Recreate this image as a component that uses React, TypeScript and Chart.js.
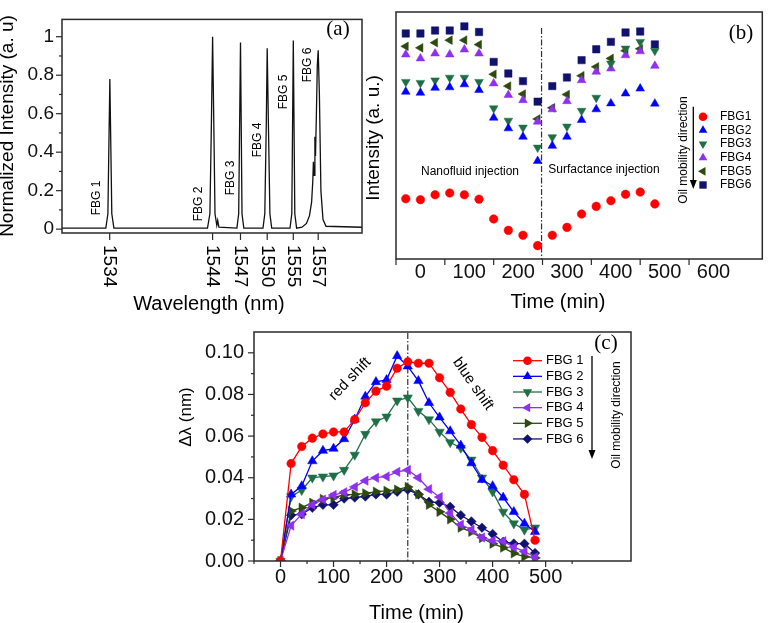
import React, { useEffect, useRef } from 'react';
import { Chart, registerables } from 'chart.js';
Chart.register(...registerables);

// ---------------- Panel (a): spectrum ----------------
// x is the position along the (non-linear) wavelength axis, 0..100
const spectrumPos = [0, 14.6, 15.3, 15.95, 16.6, 17.3, 48.5, 49.3, 49.8, 50.2, 50.6, 51.0, 51.6, 51.9, 52.3, 58.3, 58.9, 59.5, 60.0, 60.6, 67.0, 67.6, 68.1, 68.4, 68.8, 69.3, 69.9, 76.0, 76.6, 77.1, 77.6, 78.2, 80.0, 81.5, 82.5, 83.2, 83.6, 83.8, 84.0, 84.3, 84.5, 84.8, 85.1, 85.4, 85.8, 86.3, 87.0, 88.0, 100];
const spectrumInt = [0.005, 0.005, 0.08, 0.78, 0.08, 0.005, 0.005, 0.08, 0.55, 1.0, 0.55, 0.08, 0.02, 0.045, 0.01, 0.005, 0.08, 0.97, 0.08, 0.005, 0.005, 0.08, 0.55, 0.94, 0.55, 0.08, 0.005, 0.005, 0.08, 0.98, 0.08, 0.005, 0.01, 0.03, 0.07, 0.14, 0.25, 0.35, 0.28, 0.48, 0.38, 0.6, 0.85, 0.93, 0.7, 0.2, 0.05, 0.015, 0.01];
const peakTickPos = [15.9, 50.2, 59.5, 68.4, 77.1, 85.4];
const peakTickLabels = ['1534', '1544', '1547', '1550', '1555', '1557'];
const peakNames = ['FBG 1', 'FBG 2', 'FBG 3', 'FBG 4', 'FBG 5', 'FBG 6'];
const intensityTicks = [0, 0.1, 0.2, 0.3, 0.4, 0.5, 0.6, 0.7, 0.8, 0.9, 1.0];

// ---------------- Panel (b): intensity vs time ----------------
const timeB = [-30, 0, 30, 60, 90, 120, 150, 180, 210, 240, 270, 300, 330, 360, 390, 420, 450, 480];
const bFBG1 = [0.244, 0.240, 0.260, 0.267, 0.260, 0.242, 0.162, 0.116, 0.096, 0.054, 0.096, 0.128, 0.182, 0.213, 0.236, 0.262, 0.271, 0.223];
const bFBG2 = [0.677, 0.673, 0.693, 0.695, 0.707, 0.684, 0.572, 0.529, 0.495, 0.397, 0.458, 0.495, 0.563, 0.606, 0.630, 0.670, 0.690, 0.629];
const bFBG3 = [0.717, 0.713, 0.723, 0.734, 0.734, 0.717, 0.610, 0.560, 0.532, 0.451, 0.493, 0.536, 0.600, 0.653, 0.791, 0.852, 0.879, 0.843];
const bFBG4 = [0.828, 0.812, 0.832, 0.828, 0.848, 0.832, 0.711, 0.664, 0.643, 0.556, 0.606, 0.639, 0.724, 0.758, 0.771, 0.825, 0.841, 0.782];
const bFBG5 = [0.861, 0.855, 0.876, 0.886, 0.886, 0.868, 0.748, 0.700, 0.668, 0.567, 0.612, 0.666, 0.742, 0.778, 0.812, 0.843, 0.851, null];
const bFBG6 = [0.913, 0.913, 0.925, 0.925, 0.942, 0.919, 0.798, 0.751, 0.720, 0.637, 0.700, 0.735, 0.805, 0.849, 0.879, 0.917, 0.921, 0.869];
const bNames = ['FBG1', 'FBG2', 'FBG3', 'FBG4', 'FBG5', 'FBG6'];
const bTickValues = [-50, 0, 50, 100, 150, 200, 250, 300, 350, 400, 450, 500, 550, 600];
const bTickMarks = [-50, 50, 150, 250, 350, 450, 550];
const bSwitchTime = 248;

// ---------------- Panel (c): wavelength shift ----------------
const timeC = [0, 20, 40, 60, 80, 100, 120, 140, 160, 180, 200, 220, 240, 260, 280, 300, 320, 340, 360, 380, 400, 420, 440, 460, 480];
const cFBG1 = [0, 0.0468, 0.055, 0.059, 0.061, 0.062, 0.062, 0.068, 0.076, 0.0816, 0.084, 0.0926, 0.0957, 0.095, 0.095, 0.088, 0.081, 0.073, 0.0655, 0.0594, 0.053, 0.046, 0.039, 0.032, 0.010];
const cFBG2 = [0, 0.032, 0.036, 0.048, 0.053, 0.054, 0.0586, 0.068, 0.079, 0.086, 0.087, 0.0985, 0.0935, 0.0865, 0.076, 0.069, 0.0624, 0.0555, 0.047, 0.039, 0.036, 0.0305, 0.0236, 0.018, 0.014];
const cFBG3 = [0, 0.031, 0.034, 0.040, 0.0405, 0.041, 0.0437, 0.051, 0.061, 0.067, 0.0693, 0.077, 0.0785, 0.072, 0.068, 0.062, 0.057, 0.0543, 0.0486, 0.040, 0.0333, 0.0236, 0.018, 0.015, 0.016];
const cFBG4 = [0, 0.017, 0.0225, 0.027, 0.0295, 0.0317, 0.033, 0.0356, 0.0386, 0.040, 0.0406, 0.0428, 0.0437, 0.040, 0.0345, 0.0307, 0.023, 0.0175, 0.015, 0.0113, 0.0098, 0.0095, 0.0067, 0.0046, 0.0018];
const cFBG5 = [0, 0.024, 0.0256, 0.028, 0.0298, 0.0305, 0.0317, 0.032, 0.0325, 0.0333, 0.0337, 0.0343, 0.0356, 0.032, 0.027, 0.0236, 0.020, 0.016, 0.014, 0.011, 0.0083, 0.0064, 0.0037, 0.0021, 0.0015];
const cFBG6 = [0, 0.022, 0.0225, 0.0256, 0.027, 0.027, 0.030, 0.0305, 0.031, 0.032, 0.032, 0.0333, 0.0343, 0.032, 0.0284, 0.028, 0.026, 0.022, 0.019, 0.016, 0.013, 0.0092, 0.0084, 0.0083, 0.0038];
const cNames = ['FBG 1', 'FBG 2', 'FBG 3', 'FBG 4', 'FBG 5', 'FBG 6'];
const cTickValuesX = [-50, 0, 50, 100, 150, 200, 250, 300, 350, 400, 450, 500, 550];
const cTickValuesY = [0, 0.01, 0.02, 0.03, 0.04, 0.05, 0.06, 0.07, 0.08, 0.09, 0.10];
const cSwitchTime = 240;

// ---------------- styles ----------------
const SANS = '"Liberation Sans", Arial, Helvetica, sans-serif';
const SERIF = '"Liberation Serif", "Times New Roman", serif';
const RED = '#ff0000', BLUE = '#0000ff', GREEN = '#1f6f46', PURPLE = '#8f2fef', OLIVE = '#2c4a0e', NAVY = '#11116e';

type Shape = 'circle' | 'triangle' | 'rect' | 'diamond';
type SeriesStyle = { color: string; shape: Shape; rot: number; r: number };
const bStyles: SeriesStyle[] = [
  { color: RED, shape: 'circle', rot: 0, r: 4.3 },
  { color: BLUE, shape: 'triangle', rot: 0, r: 5 },
  { color: GREEN, shape: 'triangle', rot: 180, r: 5 },
  { color: PURPLE, shape: 'triangle', rot: 0, r: 5 },
  { color: OLIVE, shape: 'triangle', rot: -90, r: 5 },
  { color: NAVY, shape: 'rect', rot: 0, r: 5.2 },
];
const cStyles: SeriesStyle[] = [
  { color: RED, shape: 'circle', rot: 0, r: 4.3 },
  { color: BLUE, shape: 'triangle', rot: 0, r: 5.4 },
  { color: GREEN, shape: 'triangle', rot: 180, r: 5.4 },
  { color: PURPLE, shape: 'triangle', rot: -90, r: 5.4 },
  { color: OLIVE, shape: 'triangle', rot: 90, r: 5.4 },
  { color: NAVY, shape: 'diamond', rot: 0, r: 4.8 },
];
const toPointStyle = (s: Shape) => (s === 'diamond' ? 'rectRot' : s);

type Txt = { t: string; x: number; y: number; size: number; rot?: number; serif?: boolean; align?: CanvasTextAlign };
type TickSet = { axis: 'x' | 'y'; values: number[]; major: (v: number) => boolean; majorLen: number; minorLen: number };
type Legend = { names: string[]; styles: SeriesStyle[]; y: number; dy: number; size: number; line?: [number, number]; markerX: number; textX: number };
type Deco = {
  ox: number; oy: number; ticks: TickSet[]; texts: Txt[];
  vline?: { value: number; y0: number };
  arrow?: { x: number; y0: number; y1: number };
  legend?: Legend;
  extra?: (chart: any, ctx: CanvasRenderingContext2D) => void;
};

function marker(ctx: CanvasRenderingContext2D, s: SeriesStyle, x: number, y: number) {
  const r = s.r;
  ctx.beginPath();
  if (s.shape === 'circle') ctx.arc(x, y, r, 0, 2 * Math.PI);
  else if (s.shape === 'rect') { const h = r * Math.SQRT1_2; ctx.rect(x - h, y - h, 2 * h, 2 * h); }
  else if (s.shape === 'diamond') { ctx.moveTo(x, y - r); ctx.lineTo(x + r, y); ctx.lineTo(x, y + r); ctx.lineTo(x - r, y); ctx.closePath(); }
  else {
    let a = (s.rot * Math.PI) / 180;
    for (let k = 0; k < 3; k++) {
      const px = x + r * Math.sin(a), py = y - r * Math.cos(a);
      if (k === 0) ctx.moveTo(px, py); else ctx.lineTo(px, py);
      a += (2 * Math.PI) / 3;
    }
    ctx.closePath();
  }
  ctx.fillStyle = s.color;
  ctx.fill();
}

function drawText(ctx: CanvasRenderingContext2D, t: Txt) {
  ctx.save();
  ctx.translate(t.x, t.y);
  if (t.rot) ctx.rotate((t.rot * Math.PI) / 180);
  ctx.font = `${t.size}px ${t.serif ? SERIF : SANS}`;
  ctx.fillStyle = '#000';
  ctx.textAlign = t.align || 'center';
  ctx.textBaseline = 'middle';
  ctx.fillText(t.t, 0, 0);
  ctx.restore();
}

function decoPlugin(d: Deco) {
  return {
    id: 'deco',
    beforeDatasetsDraw(chart: any) {
      if (!d.vline) return;
      const ctx: CanvasRenderingContext2D = chart.ctx;
      const a = chart.chartArea;
      const x = chart.scales.x.getPixelForValue(d.vline.value);
      ctx.save();
      ctx.strokeStyle = '#333';
      ctx.lineWidth = 1.2;
      ctx.setLineDash([6, 2, 1.5, 2]);
      ctx.beginPath();
      ctx.moveTo(x, d.vline.y0 - d.oy);
      ctx.lineTo(x, a.bottom);
      ctx.stroke();
      ctx.restore();
    },
    afterDraw(chart: any) {
      const ctx: CanvasRenderingContext2D = chart.ctx;
      const a = chart.chartArea;
      ctx.save();
      ctx.strokeStyle = '#2a2a2a';
      ctx.lineWidth = 1.5;
      ctx.strokeRect(a.left, a.top, a.right - a.left, a.bottom - a.top);
      ctx.lineWidth = 1.2;
      for (const ts of d.ticks) {
        const sc = chart.scales[ts.axis];
        for (const v of ts.values) {
          const len = ts.major(v) ? ts.majorLen : ts.minorLen;
          const p = sc.getPixelForValue(v);
          ctx.beginPath();
          if (ts.axis === 'x') { ctx.moveTo(p, a.bottom); ctx.lineTo(p, a.bottom + len); }
          else { ctx.moveTo(a.left, p); ctx.lineTo(a.left - len, p); }
          ctx.stroke();
        }
      }
      if (d.extra) d.extra(chart, ctx);
      ctx.translate(-d.ox, -d.oy);
      for (const t of d.texts) drawText(ctx, t);
      if (d.arrow) {
        const { x, y0, y1 } = d.arrow;
        ctx.strokeStyle = '#000';
        ctx.fillStyle = '#000';
        ctx.lineWidth = 1.3;
        ctx.beginPath(); ctx.moveTo(x, y0); ctx.lineTo(x, y1 - 6); ctx.stroke();
        ctx.beginPath(); ctx.moveTo(x - 3.5, y1 - 9); ctx.lineTo(x + 3.5, y1 - 9); ctx.lineTo(x, y1); ctx.closePath(); ctx.fill();
      }
      if (d.legend) {
        const L = d.legend;
        L.names.forEach((n, i) => {
          const y = L.y + i * L.dy;
          const s = L.styles[i];
          if (L.line) {
            ctx.strokeStyle = s.color; ctx.lineWidth = 1.3;
            ctx.beginPath(); ctx.moveTo(L.line[0], y); ctx.lineTo(L.line[1], y); ctx.stroke();
          }
          marker(ctx, s, L.markerX, y);
          drawText(ctx, { t: n, x: L.textX, y, size: L.size, align: 'left' });
        });
      }
      ctx.restore();
    },
  };
}

type Box = { left: number; top: number; width: number; height: number };
const boxA: Box = { left: 0, top: 0, width: 364, height: 320 };
const boxB: Box = { left: 364, top: 0, width: 404, height: 320 };
const boxC: Box = { left: 160, top: 310, width: 480, height: 313 };

function configA(): any {
  const deco: Deco = {
    ox: boxA.left, oy: boxA.top,
    ticks: [
      { axis: 'x', values: peakTickPos, major: () => true, majorLen: 7, minorLen: 7 },
      { axis: 'y', values: intensityTicks, major: (v) => Math.round(v * 10) % 2 === 0, majorLen: 6, minorLen: 3 },
    ],
    texts: [
      { t: 'Normalized Intensity (a. u)', x: 8, y: 126, size: 19, rot: -90 },
      { t: 'Wavelength (nm)', x: 209, y: 304, size: 20 },
      { t: '(a)', x: 338, y: 29, size: 21, serif: true },
      { t: peakNames[0], x: 97, y: 198, size: 12, rot: -90 },
      { t: peakNames[1], x: 199, y: 204, size: 12, rot: -90 },
      { t: peakNames[2], x: 231, y: 178, size: 12, rot: -90 },
      { t: peakNames[3], x: 258, y: 140, size: 12, rot: -90 },
      { t: peakNames[4], x: 284, y: 92, size: 12, rot: -90 },
      { t: peakNames[5], x: 308, y: 65, size: 12, rot: -90 },
    ],
    extra: (chart, ctx) => {
      const sc = chart.scales.x;
      const a = chart.chartArea;
      peakTickPos.forEach((v, i) => {
        drawText(ctx, { t: peakTickLabels[i], x: sc.getPixelForValue(v), y: a.bottom + 12, size: 19, rot: 90, align: 'left' });
      });
    },
  };
  return {
    type: 'line',
    data: {
      datasets: [{
        data: spectrumPos.map((x, i) => ({ x, y: spectrumInt[i] })),
        borderColor: '#111', borderWidth: 1.3, pointRadius: 0, tension: 0,
      }],
    },
    options: {
      animation: false, responsive: false, devicePixelRatio: 1,
      layout: { padding: { left: 0, top: 3, right: 2, bottom: 0 } },
      plugins: { legend: { display: false }, tooltip: { enabled: false } },
      scales: {
        x: {
          type: 'linear', min: 0, max: 100,
          grid: { display: false, drawTicks: false }, border: { display: false },
          ticks: { display: false },
          afterFit: (s: any) => { s.height = 87; },
        },
        y: {
          type: 'linear', min: -0.02, max: 1.09,
          grid: { display: false, drawTicks: false }, border: { display: false },
          ticks: {
            autoSkip: false, padding: 8, color: '#111', font: { family: SANS, size: 19 },
            callback: (v: number) => {
              const k = Math.round(v * 10);
              if (k % 2 !== 0) return '';
              return k === 0 ? '0' : k === 10 ? '1' : (k / 10).toFixed(1);
            },
          },
          afterBuildTicks: (s: any) => { s.ticks = intensityTicks.map((value) => ({ value })); },
          afterFit: (s: any) => { s.width = 62; },
        },
      },
    },
    plugins: [decoPlugin(deco)],
  };
}

function configB(): any {
  const series = [bFBG1, bFBG2, bFBG3, bFBG4, bFBG5, bFBG6];
  const deco: Deco = {
    ox: boxB.left, oy: boxB.top,
    ticks: [{ axis: 'x', values: bTickMarks, major: () => true, majorLen: 6, minorLen: 6 }],
    vline: { value: bSwitchTime, y0: 28 },
    texts: [
      { t: 'Intensity (a. u.)', x: 374, y: 138, size: 19, rot: -90 },
      { t: 'Time (min)', x: 558, y: 302, size: 20 },
      { t: '(b)', x: 741, y: 33, size: 21, serif: true },
      { t: 'Nanofluid injection', x: 470, y: 172, size: 12 },
      { t: 'Surfactance injection', x: 604, y: 170, size: 12 },
      { t: 'Oil mobility direction', x: 684, y: 150, size: 12, rot: -90 },
    ],
    arrow: { x: 693.3, y0: 106.7, y1: 189 },
    legend: { names: bNames, styles: bStyles, y: 116.7, dy: 13.66, size: 12, markerX: 703, textX: 720 },
  };
  return {
    type: 'scatter',
    data: {
      datasets: series.map((vals, i) => ({
        label: bNames[i],
        data: timeB.map((x, j) => ({ x, y: vals[j] })).filter((p) => p.y !== null),
        showLine: false,
        pointStyle: toPointStyle(bStyles[i].shape),
        pointRotation: bStyles[i].rot,
        pointRadius: bStyles[i].r,
        pointBackgroundColor: bStyles[i].color,
        pointBorderColor: bStyles[i].color,
        pointBorderWidth: 0.5,
      })),
    },
    options: {
      animation: false, responsive: false, devicePixelRatio: 1,
      layout: { padding: { left: 32, top: 12, right: 2, bottom: 0 } },
      plugins: { legend: { display: false }, tooltip: { enabled: false } },
      scales: {
        x: {
          type: 'linear', min: -50, max: 700,
          grid: { display: false, drawTicks: false }, border: { display: false },
          ticks: {
            autoSkip: false, maxRotation: 0, padding: 1, color: '#111', font: { family: SANS, size: 20 },
            callback: (v: number) => (v >= 0 && v % 100 === 0 ? String(v) : ''),
          },
          afterBuildTicks: (s: any) => { s.ticks = bTickValues.map((value) => ({ value })); },
          afterFit: (s: any) => { s.height = 61; },
        },
        y: { type: 'linear', min: 0, max: 1, display: false },
      },
    },
    plugins: [decoPlugin(deco)],
  };
}

function configC(): any {
  const series = [cFBG1, cFBG2, cFBG3, cFBG4, cFBG5, cFBG6];
  const deco: Deco = {
    ox: boxC.left, oy: boxC.top,
    ticks: [
      { axis: 'x', values: cTickValuesX, major: (v) => v % 100 === 0, majorLen: 6, minorLen: 3 },
      { axis: 'y', values: cTickValuesY, major: (v) => Math.round(v * 100) % 2 === 0, majorLen: 6, minorLen: 3 },
    ],
    vline: { value: cSwitchTime, y0: 333 },
    texts: [
      { t: 'Δλ (nm)', x: 186, y: 417, size: 17, rot: -90 },
      { t: 'Time (min)', x: 416.5, y: 613, size: 20 },
      { t: '(c)', x: 606, y: 343, size: 21, serif: true },
      { t: 'red shift', x: 350, y: 379, size: 15, rot: -46 },
      { t: 'blue shift', x: 473, y: 384, size: 15, rot: 55 },
      { t: 'Oil mobility direction', x: 617, y: 415, size: 12, rot: -90 },
    ],
    arrow: { x: 592, y0: 356, y1: 459 },
    legend: { names: cNames, styles: cStyles, y: 360.7, dy: 15.65, size: 13, line: [513, 542], markerX: 527.5, textX: 546 },
  };
  return {
    type: 'line',
    data: {
      datasets: series.map((vals, i) => ({
        label: cNames[i],
        data: timeC.map((x, j) => ({ x, y: vals[j] })),
        borderColor: cStyles[i].color,
        borderWidth: 1.3,
        tension: 0,
        pointStyle: toPointStyle(cStyles[i].shape),
        pointRotation: cStyles[i].rot,
        pointRadius: cStyles[i].r,
        pointBackgroundColor: cStyles[i].color,
        pointBorderColor: cStyles[i].color,
        pointBorderWidth: 0.5,
      })),
    },
    options: {
      animation: false, responsive: false, devicePixelRatio: 1,
      layout: { padding: { left: 0, top: 10, right: 9, bottom: 0 } },
      plugins: { legend: { display: false }, tooltip: { enabled: false } },
      scales: {
        x: {
          type: 'linear', min: -50, max: 661,
          grid: { display: false, drawTicks: false }, border: { display: false },
          ticks: {
            autoSkip: false, maxRotation: 0, padding: 4, color: '#111', font: { family: SANS, size: 20 },
            callback: (v: number) => (v >= 0 && v % 100 === 0 ? String(v) : ''),
          },
          afterBuildTicks: (s: any) => { s.ticks = cTickValuesX.map((value) => ({ value })); },
          afterFit: (s: any) => { s.height = 62; },
        },
        y: {
          type: 'linear', min: 0, max: 0.11,
          grid: { display: false, drawTicks: false }, border: { display: false },
          ticks: {
            autoSkip: false, padding: 10, color: '#111', font: { family: SANS, size: 20 },
            callback: (v: number) => (Math.round(v * 100) % 2 === 0 ? v.toFixed(2) : ''),
          },
          afterBuildTicks: (s: any) => { s.ticks = cTickValuesY.map((value) => ({ value })); },
          afterFit: (s: any) => { s.width = 94; },
        },
      },
    },
    plugins: [decoPlugin(deco)],
  };
}

function ChartBox({ box, make }: { box: Box; make: () => any }) {
  const ref = useRef<HTMLCanvasElement>(null);
  useEffect(() => {
    const chart = new Chart(ref.current as HTMLCanvasElement, make());
    return () => chart.destroy();
  }, []);
  return (
    <canvas
      ref={ref}
      width={box.width}
      height={box.height}
      style={{ position: 'absolute', left: box.left, top: box.top, width: box.width, height: box.height }}
    />
  );
}

export default function App() {
  return (
    <div style={{ position: 'fixed', left: 0, top: 0, width: 768, height: 623, background: '#fff', overflow: 'hidden' }}>
      <ChartBox box={boxA} make={configA} />
      <ChartBox box={boxB} make={configB} />
      <ChartBox box={boxC} make={configC} />
    </div>
  );
}
